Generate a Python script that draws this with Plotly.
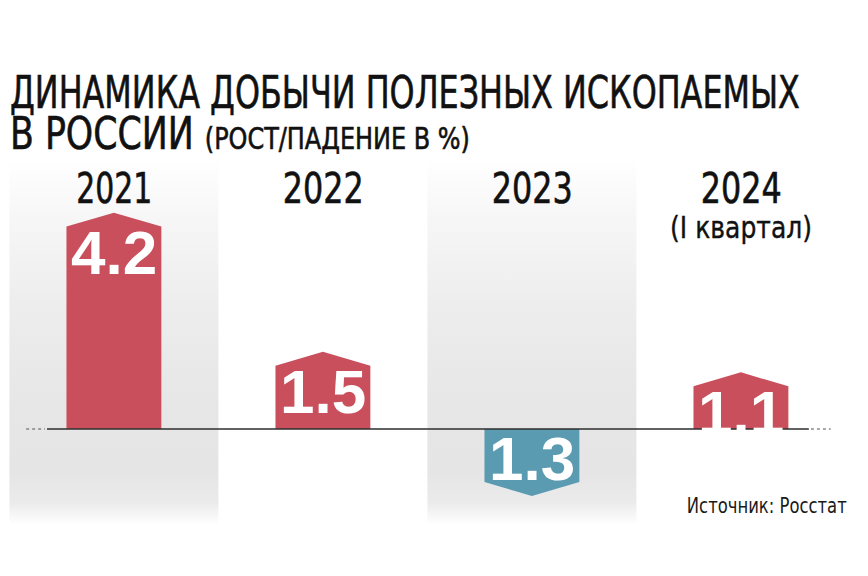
import json
import plotly.graph_objects as go

# ---- data ----
years = ["2021", "2022", "2023", "2024"]
sublabels = ["", "", "", "(I квартал)"]
values = [4.2, 1.5, -1.3, 1.1]
labels = ["4.2", "1.5", "1.3", "1.1"]
shaded_columns = [0, 2]

title_line1 = "ДИНАМИКА ДОБЫЧИ ПОЛЕЗНЫХ ИСКОПАЕМЫХ"
title_line2 = "В РОССИИ"
title_note = "(РОСТ/ПАДЕНИЕ В %)"
source = "Источник: Росстат"

# ---- style ----
W, H = 868, 576
RED = "#c94f5c"
BLUE = "#5b9bb1"
COND = "DejaVu Sans Condensed, Roboto, sans-serif"
BOLD = "Liberation Sans, Arial, sans-serif"

x_range = [-0.545, 3.608]
y_range = [-2.854, 8.33]
half_w = 0.227
tip = 0.27

# target rendered widths (px) for condensed texts, to emulate a narrow typeface
year_widths = [76, 81, 81, 81]


def px(x):
    return x / W


def py(y):
    return 1 - y / H


fig = go.Figure()

# shaded column backgrounds
for i in shaded_columns:
    ylo, yhi = -1.86, 5.25
    fig.add_trace(go.Scatter(
        x=[i - 0.5, i + 0.5, i + 0.5, i - 0.5, i - 0.5],
        y=[ylo, ylo, yhi, yhi, ylo],
        mode="lines", line=dict(width=0), fill="toself",
        fillgradient=dict(
            type="vertical", start=ylo, stop=yhi,
            colorscale=[[0, "#ffffff"], [0.06, "#ebebeb"], [0.15, "#e5e5e5"],
                        [0.35, "#e7e7e7"], [0.6, "#ededed"], [0.85, "#f7f7f7"],
                        [1, "#ffffff"]],
        ),
        hoverinfo="skip", showlegend=False,
    ))

# bars as arrow-shaped polygons
for i, v in enumerate(values):
    s = v - tip if v > 0 else v + tip
    fig.add_trace(go.Scatter(
        x=[i - half_w, i - half_w, i, i + half_w, i + half_w, i - half_w],
        y=[0, s, v, s, 0, 0],
        mode="lines", line=dict(width=0), fill="toself",
        fillcolor=RED if v > 0 else BLUE,
        hoverinfo="skip", showlegend=False,
    ))

# baseline
fig.add_shape(type="line", xref="x", yref="y", x0=-0.32, x1=3.325, y0=0, y1=0,
              line=dict(color="#2e2e2e", width=1.5))
for xa, xb in [(-0.42, -0.33), (3.335, 3.43)]:
    fig.add_trace(go.Scatter(x=[xa, xb], y=[0, 0], mode="lines",
                             line=dict(color="#555555", width=1.2, dash="dot"),
                             hoverinfo="skip", showlegend=False))

targets = []
strokes = []

# value labels
for i, (v, t) in enumerate(zip(values, labels)):
    fig.add_annotation(x=i, y=v, xref="x", yref="y", text=t, showarrow=False,
                       yanchor="middle", yshift=-40 if v > 0 else 37,
                       font=dict(family=BOLD, size=62, color="white", weight="bold"))
    targets.append(None)
    strokes.append(0)

# year labels
for i, (yr, sl) in enumerate(zip(years, sublabels)):
    fig.add_annotation(x=i, y=py(188), xref="x", yref="paper", text=yr,
                       showarrow=False, yanchor="middle",
                       font=dict(family=COND, size=43, color="#111111"))
    targets.append(year_widths[i])
    strokes.append(0.6)
    if sl:
        fig.add_annotation(x=i, y=py(227), xref="x", yref="paper", text=sl,
                           showarrow=False, yanchor="middle",
                           font=dict(family=COND, size=31, color="#111111"))
        targets.append(142)
        strokes.append(0.4)

# title
fig.add_annotation(x=px(8), y=py(92), xref="paper", yref="paper", text=title_line1,
                   showarrow=False, xanchor="left", yanchor="middle", align="left",
                   font=dict(family=COND, size=45, color="#111111"))
targets.append(790)
strokes.append(0.6)
fig.add_annotation(x=px(8), y=py(133), xref="paper", yref="paper",
                   text=title_line2 + " <span style='font-size:31px'>" + title_note + "</span>",
                   showarrow=False, xanchor="left", yanchor="middle", align="left",
                   font=dict(family=COND, size=45, color="#111111"))
targets.append(460)
strokes.append(0.6)

# source
fig.add_annotation(x=px(849), y=py(505), xref="paper", yref="paper", text=source,
                   showarrow=False, xanchor="right", yanchor="middle", align="right",
                   font=dict(family=COND, size=22, color="#1a1a1a"))
targets.append(160)
strokes.append(0)

fig.update_layout(
    width=W, height=H, margin=dict(l=0, r=0, t=0, b=0),
    paper_bgcolor="white", plot_bgcolor="white",
    xaxis=dict(range=x_range, visible=False, fixedrange=True),
    yaxis=dict(range=y_range, visible=False, fixedrange=True),
    showlegend=False,
)

post = """
(function(){
  var gd = document.getElementById('{plot_id}');
  var targets = %s;
  var strokes = %s;
  gd.querySelectorAll('g.annotation').forEach(function(g){
    var idx = parseInt(g.getAttribute('data-index'));
    var tw = targets[idx];
    if (!tw) return;
    var t = g.querySelector('text.annotation-text');
    if (!t) return;
    var bb = t.getBBox();
    if (!bb.width) return;
    var s = tw / bb.width;
    var a = t.getAttribute('text-anchor') || 'middle';
    var ox = a === 'start' ? bb.x : (a === 'end' ? bb.x + bb.width : bb.x + bb.width / 2);
    t.setAttribute('transform', 'translate(' + ox + ',0) scale(' + s + ',1) translate(' + (-ox) + ',0)');
    if (strokes[idx]) {
      t.style.stroke = '#111111';
      t.style.strokeWidth = strokes[idx] + 'px';
    }
  });
})();
""" % (json.dumps(targets), json.dumps(strokes))

fig.write_html("out.html", post_script=post)
